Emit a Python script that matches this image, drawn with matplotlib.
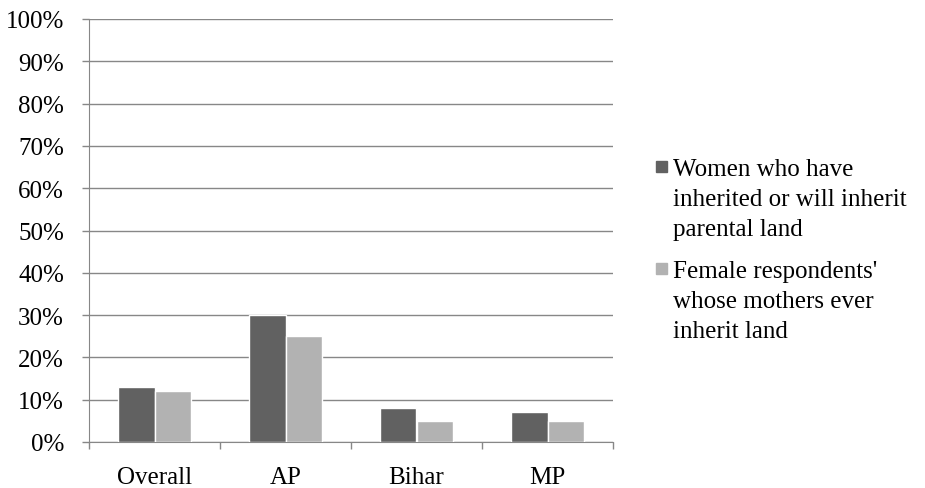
import numpy as np
import matplotlib.pyplot as plt
from matplotlib.patches import Rectangle
from matplotlib.ticker import MultipleLocator, FuncFormatter

categories = ["Overall", "AP", "Bihar", "MP"]
women_inherit = [13, 30, 8, 7]
mothers_inherit = [12, 25, 5, 5]
series_labels = [["Women who have", "inherited or will inherit", "parental land"],
                 ["Female respondents'", "whose mothers ever", "inherit land"]]

plt.rcParams['font.family'] = ['Liberation Serif', 'DejaVu Serif']
FS = 18

W, H = 925, 489
fig = plt.figure(figsize=(W / 100, H / 100), dpi=100)
ax = fig.add_axes([89 / W, (H - 443) / H, 524 / W, 423 / H])

x = np.arange(len(categories))
w = 0.28
dark = '#616161'
light = '#b2b2b2'
ax.bar(x - w / 2, women_inherit, w, color=dark, edgecolor='white', linewidth=1, zorder=3)
ax.bar(x + w / 2, mothers_inherit, w, color=light, edgecolor='white', linewidth=1, zorder=3)

ax.set_xlim(-0.5, len(categories) - 0.5)
ax.set_ylim(0, 100)
ax.yaxis.set_major_locator(MultipleLocator(10))
ax.yaxis.set_major_formatter(FuncFormatter(lambda v, p: f"{int(v)}%"))
ax.grid(axis='y', color='#878787', linewidth=1, zorder=0)

ax.set_xticks(np.arange(len(categories) + 1) - 0.5)
ax.set_xticklabels([])
ax.set_xticks(x, minor=True)
ax.set_xticklabels(categories, minor=True)
ax.tick_params(axis='x', which='minor', length=0, pad=17, labelsize=FS)
ax.tick_params(axis='x', which='major', length=5, color='#878787', width=1)
ax.tick_params(axis='y', length=5, color='#878787', width=1, labelsize=FS, pad=13)

for s in ['top', 'right']:
    ax.spines[s].set_visible(False)
for s in ['left', 'bottom']:
    ax.spines[s].set_color('#878787')

# legend drawn by hand so the swatch sits beside the first line
entries = [(dark, series_labels[0], 176), (light, series_labels[1], 278)]
for color, lines, base in entries:
    fig.patches.append(Rectangle((656 / W, (H - base + 3) / H), 11 / W, 11 / H,
                                 transform=fig.transFigure, color=color))
    for i, line in enumerate(lines):
        fig.text(673 / W, (H - base - 30 * i) / H, line, fontsize=FS,
                 va='baseline', ha='left')

fig.savefig("out.png", dpi=100)
